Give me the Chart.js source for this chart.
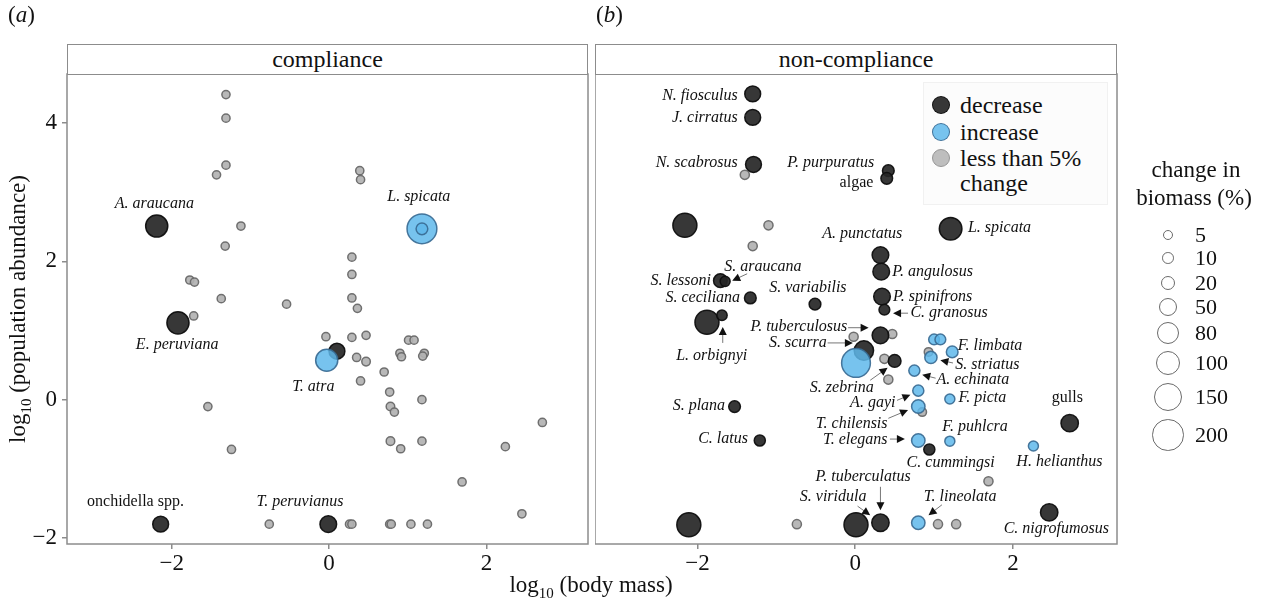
<!DOCTYPE html>
<html lang="en">
<head>
<meta charset="UTF-8">
<title>Body mass vs population abundance</title>
<script src="https://cdn.jsdelivr.net/npm/chart.js"></script>
<style>
    body {
        margin: 0;
        width: 1263px;
        height: 605px;
        position: relative;
        overflow: hidden;
        background: #fff;
        font-family: "Liberation Serif", "Times New Roman", serif;
        color: #111;
    }
    canvas { position: absolute; top: 0; }
    .abs { position: absolute; white-space: nowrap; }
    .c { transform: translate(-50%, -50%); }
    .strip {
        position: absolute;
        top: 44px;
        height: 31px;
        box-sizing: border-box;
        border: 1.5px solid #8c8c8c;
        background: #fff;
        font-size: 24px;
        line-height: 28px;
        text-align: center;
    }
    .tag { font-size: 23px; top: 2px; }
    .title { font-size: 23px; }
    #legend {
        position: absolute;
        left: 923px; top: 82px;
        width: 185px; height: 123px;
        background: #fcfcfc;
        border: 1px solid #f1f1f1;
        box-sizing: border-box;
    }
    .key { position: absolute; left: 960px; font-size: 24px; transform: translateY(-50%); }
    .dot { position: absolute; border-radius: 50%; box-sizing: border-box; }
    .sz { position: absolute; left: 1195px; font-size: 22px; transform: translateY(-50%); }
</style>
</head>
<body>
<canvas id="left" width="595" height="605" style="left:0"></canvas>
<canvas id="right" width="668" height="605" style="left:595px"></canvas>

<div class="abs tag" style="left:8px">(<i>a</i>)</div>
<div class="abs tag" style="left:596px">(<i>b</i>)</div>
<div class="strip" style="left:67px; width:521px">compliance</div>
<div class="strip" style="left:595px; width:522px">non-compliance</div>
<div class="abs title c" style="left:20px; top:309px; transform:translate(-50%,-50%) rotate(-90deg)">log<sub style="font-size:15px">10</sub> (population abundance)</div>
<div class="abs title c" style="left:591px; top:587px">log<sub style="font-size:15px">10</sub> (body mass)</div>

<div id="legend"></div>
<div id="keys"></div>
<div class="abs title c" style="left:1196px; top:170px">change in</div>
<div class="abs title c" style="left:1194px; top:198px">biomass (%)</div>
<div id="sizes"></div>

<script>
    // [log10 body mass, log10 abundance, change in biomass %]
    const compDecrease = [[-2.19, 2.51, 80], [-1.92, 1.11, 80], [0.10, 0.70, 30], [-2.14, -1.80, 30], [-0.01, -1.80, 35]];
    const compIncrease = [[1.18, 2.47, 175], [1.18, 2.47, 10], [-0.03, 0.57, 80]];
    const compSmall = [
        [-1.31, 4.41, 1.5], [-1.31, 4.07, 1.5], [-1.31, 3.39, 1.5], [-1.43, 3.25, 1.5], [-1.12, 2.51, 1.5],
        [-1.32, 2.22, 1.5], [-1.77, 1.73, 1.5], [-1.71, 1.70, 1.5], [-1.37, 1.46, 1.5], [-0.54, 1.38, 1.5],
        [-1.72, 1.21, 1.5], [-0.04, 0.91, 1.5], [0.39, 3.31, 1.5], [0.40, 3.18, 1.5], [0.29, 2.06, 1.5],
        [0.29, 1.81, 1.5], [0.29, 1.47, 1.5], [0.36, 1.32, 1.5], [0.29, 0.90, 1.5], [0.47, 0.93, 1.5],
        [1.01, 0.86, 1.5], [1.08, 0.86, 1.5], [0.90, 0.67, 1.5], [0.92, 0.62, 1.5], [1.21, 0.67, 1.5],
        [1.19, 0.63, 1.5], [0.35, 0.61, 1.5], [0.47, 0.55, 2], [0.70, 0.40, 1.5], [0.40, 0.27, 1.5],
        [0.77, 0.11, 1.5], [1.18, 0.00, 1.5], [0.78, -0.10, 2], [0.83, -0.18, 1.5], [2.71, -0.33, 1.5],
        [0.78, -0.60, 2], [1.18, -0.60, 1.5], [0.91, -0.71, 1.5], [2.24, -0.68, 1.5], [1.69, -1.19, 1.5],
        [2.45, -1.65, 1.5], [-1.54, -0.10, 1.5], [-1.24, -0.72, 1.5], [-0.76, -1.80, 1.5], [0.26, -1.80, 1.5],
        [0.29, -1.80, 1.5], [0.77, -1.80, 1.5], [0.79, -1.80, 1.5], [1.04, -1.80, 1.5], [1.25, -1.80, 1.5]
    ];

    const nonDecrease = [
        [-1.30, 4.42, 30], [-1.30, 4.08, 30], [-1.29, 3.40, 30], [0.42, 3.31, 10], [0.40, 3.20, 10],
        [-2.16, 2.52, 100], [1.21, 2.47, 85], [0.32, 2.09, 35], [0.33, 1.85, 35], [0.34, 1.49, 35],
        [0.37, 1.30, 7], [-1.71, 1.72, 18], [-1.65, 1.71, 5], [-1.33, 1.47, 10], [-0.51, 1.38, 10],
        [-1.88, 1.12, 100], [-1.69, 1.22, 6], [0.32, 0.93, 35], [0.11, 0.71, 55], [0.50, 0.56, 14],
        [-1.53, -0.10, 10], [-1.21, -0.59, 8], [0.94, -0.72, 8], [2.72, -0.34, 40], [2.46, -1.63, 40],
        [-2.11, -1.81, 100], [0.01, -1.81, 100], [0.32, -1.78, 40]
    ];
    const nonIncrease = [
        [0.01, 0.53, 160], [1.00, 0.87, 7], [1.08, 0.87, 7], [1.23, 0.69, 10], [0.96, 0.61, 12],
        [0.75, 0.42, 8], [0.80, 0.13, 8], [0.80, -0.10, 17], [1.20, 0.01, 5], [0.80, -0.59, 17],
        [1.20, -0.60, 5], [2.26, -0.67, 5], [0.80, -1.78, 17]
    ];
    const nonSmall = [
        [-1.40, 3.25, 3], [-1.10, 2.52, 3], [-1.30, 2.22, 3], [-0.02, 0.91, 3], [0.47, 0.95, 3],
        [0.93, 0.69, 2], [0.37, 0.59, 3], [0.42, 0.29, 3], [0.85, -0.18, 2], [1.69, -1.18, 3],
        [-0.74, -1.80, 3], [1.05, -1.80, 3], [1.28, -1.80, 3]
    ];

    const xTicks = [-2, 0, 2];
    const yTicks = [-2, 0, 2, 4];
    const statusNames = ['decrease', 'increase', 'less than 5%', 'change'];
    const sizeKeys = [5, 10, 20, 50, 80, 100, 150, 200];

    // species labels: [text, x, y, align, italic]
    const compLabels = [
        ['A. araucana', -2.22, 2.83, 'center', true],
        ['E. peruviana', -1.93, 0.79, 'center', true],
        ['L. spicata', 1.14, 2.93, 'center', true],
        ['T. atra', -0.20, 0.18, 'center', true],
        ['onchidella spp.', -2.46, -1.48, 'center', false],
        ['T. peruvianus', -0.37, -1.48, 'center', true]
    ];
    const nonLabels = [
        ['N. fiosculus', -1.49, 4.40, 'right', true],
        ['J. cirratus', -1.49, 4.07, 'right', true],
        ['N. scabrosus', -1.49, 3.43, 'right', true],
        ['P. purpuratus', 0.24, 3.43, 'right', true],
        ['algae', 0.23, 3.13, 'right', false],
        ['A. punctatus', 0.09, 2.40, 'center', true],
        ['L. spicata', 1.43, 2.48, 'left', true],
        ['P. angulosus', 0.47, 1.85, 'left', true],
        ['P. spinifrons', 0.48, 1.49, 'left', true],
        ['C. granosus', 0.70, 1.25, 'left', true],
        ['S. araucana', -1.17, 1.92, 'center', true],
        ['S. lessoni', -1.83, 1.72, 'right', true],
        ['S. ceciliana', -1.46, 1.47, 'right', true],
        ['S. variabilis', -0.60, 1.61, 'center', true],
        ['L. orbignyi', -1.82, 0.63, 'center', true],
        ['P. tuberculosus', -0.10, 1.05, 'right', true],
        ['S. scurra', -0.36, 0.82, 'right', true],
        ['F. limbata', 1.30, 0.78, 'left', true],
        ['S. striatus', 1.27, 0.50, 'left', true],
        ['A. echinata', 1.03, 0.29, 'left', true],
        ['S. zebrina', -0.17, 0.17, 'center', true],
        ['A. gayi', 0.51, -0.05, 'right', true],
        ['F. picta', 1.31, 0.02, 'left', true],
        ['T. chilensis', 0.41, -0.35, 'right', true],
        ['F. puhlcra', 1.52, -0.39, 'center', true],
        ['T. elegans', 0.41, -0.58, 'right', true],
        ['C. cummingsi', 1.21, -0.91, 'center', true],
        ['gulls', 2.69, 0.02, 'center', false],
        ['H. helianthus', 2.59, -0.90, 'center', true],
        ['C. nigrofumosus', 2.55, -1.87, 'center', true],
        ['T. lineolata', 1.33, -1.41, 'center', true],
        ['P. tuberculatus', 0.10, -1.12, 'center', true],
        ['S. viridula', -0.28, -1.41, 'center', true],
        ['S. plana', -1.65, -0.09, 'right', true],
        ['C. latus', -1.36, -0.57, 'right', true]
    ];
    // arrows: [fromX, fromY, toX, toY]
    const nonArrows = [
        [0.67, 1.25, 0.48, 1.25],
        [-1.37, 1.82, -1.56, 1.72],
        [-1.68, 0.82, -1.68, 1.05],
        [-0.09, 1.04, 0.17, 1.04],
        [-0.35, 0.82, -0.03, 0.82],
        [1.24, 0.53, 1.08, 0.57],
        [1.02, 0.31, 0.85, 0.36],
        [0.19, 0.28, 0.41, 0.46],
        [0.53, -0.01, 0.70, 0.07],
        [0.42, -0.27, 0.67, -0.15],
        [0.44, -0.57, 0.63, -0.57],
        [1.10, -1.52, 0.93, -1.67],
        [0.32, -1.26, 0.32, -1.60],
        [0.03, -1.54, 0.19, -1.67]
    ];

    const FONT = '"Liberation Serif", "Times New Roman", serif';
    Chart.defaults.font.family = FONT;
    Chart.defaults.color = '#111';

    const sizeOf = v => 3 + 0.9 * Math.sqrt(v);
    const fmt = v => v < 0 ? '\u2212' + Math.abs(v) : String(v);

    const colors = {
        decrease: ['rgba(38,38,38,0.92)', 'rgba(15,15,15,0.95)'],
        increase: ['rgba(95,185,235,0.85)', 'rgba(55,105,145,0.9)'],
        small: ['rgba(178,178,178,0.92)', 'rgba(105,105,105,0.95)']
    };

    function dataset(points, key) {
        return {
            data: points.map(p => ({ x: p[0], y: p[1], v: p[2] })),
            backgroundColor: colors[key][0],
            borderColor: colors[key][1],
            borderWidth: 1.5,
            pointRadius: c => sizeOf(c.raw.v),
            showLine: false
        };
    }

    function panelPlugin(labels, arrows) {
        return {
            id: 'panel',
            afterDatasetsDraw(chart) {
                const { ctx, chartArea: a, scales: { x, y } } = chart;
                ctx.save();
                arrows.forEach(([x0, y0, x1, y1]) => {
                    const px0 = x.getPixelForValue(x0), py0 = y.getPixelForValue(y0);
                    const px1 = x.getPixelForValue(x1), py1 = y.getPixelForValue(y1);
                    const ang = Math.atan2(py1 - py0, px1 - px0);
                    ctx.strokeStyle = '#777';
                    ctx.lineWidth = 1;
                    ctx.beginPath();
                    ctx.moveTo(px0, py0);
                    ctx.lineTo(px1 - 5 * Math.cos(ang), py1 - 5 * Math.sin(ang));
                    ctx.stroke();
                    ctx.fillStyle = '#111';
                    ctx.beginPath();
                    ctx.moveTo(px1, py1);
                    ctx.lineTo(px1 - 8 * Math.cos(ang) + 4 * Math.sin(ang), py1 - 8 * Math.sin(ang) - 4 * Math.cos(ang));
                    ctx.lineTo(px1 - 8 * Math.cos(ang) - 4 * Math.sin(ang), py1 - 8 * Math.sin(ang) + 4 * Math.cos(ang));
                    ctx.closePath();
                    ctx.fill();
                });
                ctx.fillStyle = '#111';
                ctx.textBaseline = 'middle';
                labels.forEach(([t, lx, ly, align, it]) => {
                    ctx.font = (it ? 'italic ' : '') + '16px ' + FONT;
                    ctx.textAlign = align;
                    ctx.fillText(t, x.getPixelForValue(lx), y.getPixelForValue(ly));
                });
                ctx.strokeStyle = '#8c8c8c';
                ctx.lineWidth = 1.5;
                ctx.strokeRect(a.left, a.top, a.right - a.left, a.bottom - a.top);
                ctx.restore();
            }
        };
    }

    function makeChart(id, sets, labels, arrows, xr, showY, padRight) {
        return new Chart(document.getElementById(id), {
            type: 'scatter',
            data: { datasets: sets },
            options: {
                responsive: false,
                animation: false,
                events: [],
                layout: { autoPadding: false, padding: { top: 74, left: 0, right: padRight, bottom: 21 } },
                plugins: { legend: { display: false }, tooltip: { enabled: false } },
                scales: {
                    x: {
                        type: 'linear', min: xr[0], max: xr[1],
                        afterBuildTicks: s => { s.ticks = xTicks.map(v => ({ value: v })); },
                        afterFit: s => { s.height = 40; s.paddingLeft = 0; s.paddingRight = 0; },
                        grid: { drawOnChartArea: false, tickLength: 5, color: '#8c8c8c', lineWidth: 1.5 },
                        border: { display: false },
                        ticks: { font: { size: 23 }, color: '#111', padding: 1, maxRotation: 0, callback: fmt }
                    },
                    y: {
                        type: 'linear', min: -2.087, max: 4.708, display: showY,
                        afterBuildTicks: s => { s.ticks = yTicks.map(v => ({ value: v })); },
                        afterFit: s => { s.width = showY ? 67 : 0; s.paddingTop = 0; s.paddingBottom = 0; },
                        grid: { drawOnChartArea: false, tickLength: 5, color: '#8c8c8c', lineWidth: 1.5 },
                        border: { display: false },
                        ticks: { font: { size: 23 }, color: '#111', padding: 5, callback: fmt }
                    }
                }
            },
            plugins: [panelPlugin(labels, arrows)]
        });
    }

    makeChart('left',
        [dataset(compIncrease, 'increase'), dataset(compDecrease, 'decrease'), dataset(compSmall, 'small')],
        compLabels, [], [-3.33, 3.29], true, 7);
    makeChart('right',
        [dataset(nonIncrease, 'increase'), dataset(nonDecrease, 'decrease'), dataset(nonSmall, 'small')],
        nonLabels, nonArrows, [-3.30, 3.32], false, 146);

    // status legend
    const keys = document.getElementById('keys');
    const keyRows = [105, 132, 158, 183];
    const keyCols = [colors.decrease, colors.increase, ['rgba(190,190,190,1)', 'rgba(150,150,150,1)']];
    statusNames.forEach((name, i) => {
        const t = document.createElement('div');
        t.className = 'key';
        t.style.top = keyRows[i] + 'px';
        t.textContent = name;
        keys.appendChild(t);
        if (i < 3) {
            const d = document.createElement('div');
            d.className = 'dot';
            d.style.cssText = `left:${941 - 9}px; top:${keyRows[i] - 9}px; width:18px; height:18px; background:${keyCols[i][0]}; border:1.5px solid ${keyCols[i][1]}`;
            keys.appendChild(d);
        }
    });

    // size legend
    const sizes = document.getElementById('sizes');
    const sizeRows = [235, 258, 283, 307, 333, 363, 397, 435];
    sizeKeys.forEach((v, i) => {
        const r = sizeOf(v);
        const d = document.createElement('div');
        d.className = 'dot';
        d.style.cssText = `left:${1168 - r}px; top:${sizeRows[i] - r}px; width:${2 * r}px; height:${2 * r}px; border:1.5px solid #6a6a6a; background:#fff`;
        sizes.appendChild(d);
        const t = document.createElement('div');
        t.className = 'sz';
        t.style.top = sizeRows[i] + 'px';
        t.textContent = v;
        sizes.appendChild(t);
    });
</script>
</body>
</html>
